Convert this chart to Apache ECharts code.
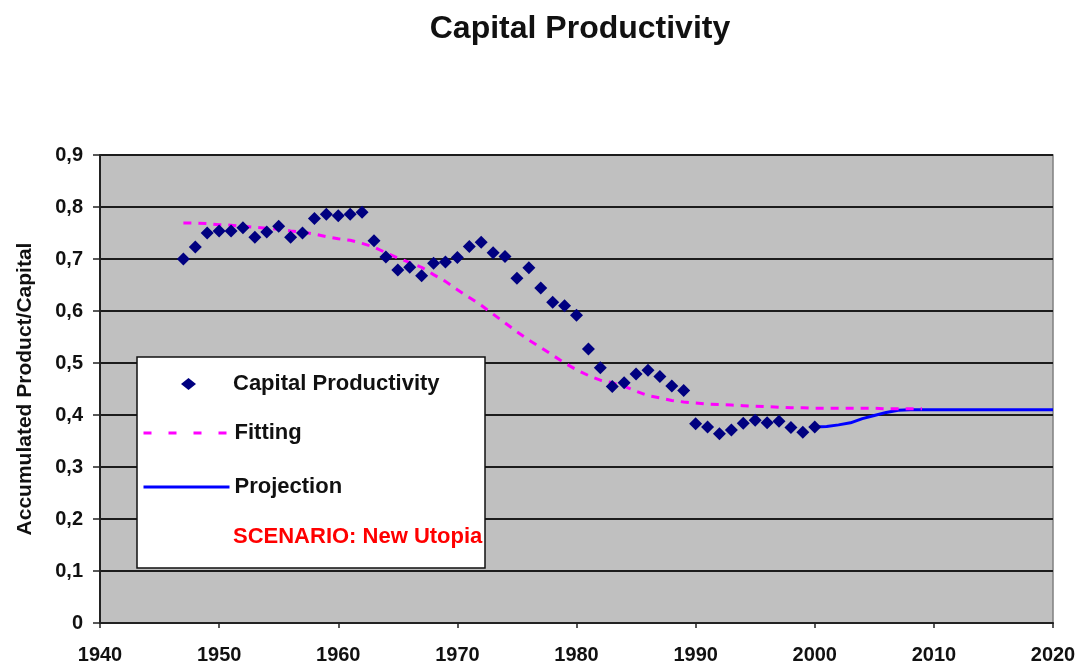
<!DOCTYPE html>
<html>
<head>
<meta charset="utf-8">
<script src="https://cdn.jsdelivr.net/npm/echarts@6/dist/echarts.min.js"></script>
<style>
  html, body { margin: 0; padding: 0; background: #ffffff; }
  #chart { width: 1087px; height: 666px; }
</style>
</head>
<body>
<div id="chart"></div>
<script>
// ---- Data ----
const titleText = 'Capital Productivity';
const yAxisTitle = 'Accumulated Product/Capital';
const scenarioText = 'SCENARIO: New Utopia';
const seriesNames = ['Capital Productivity', 'Fitting', 'Projection'];

const productivityStartYear = 1947;
const productivityValues = [
  0.700, 0.723, 0.750, 0.754, 0.754, 0.760, 0.742, 0.752, 0.763, 0.742,
  0.750, 0.778, 0.786, 0.783, 0.786, 0.790, 0.735, 0.704, 0.679, 0.684,
  0.668, 0.692, 0.694, 0.703, 0.724, 0.732, 0.712, 0.705, 0.663, 0.683,
  0.644, 0.617, 0.610, 0.592, 0.527, 0.491, 0.455, 0.462, 0.479, 0.486,
  0.474, 0.456, 0.447, 0.383, 0.377, 0.364, 0.371, 0.384, 0.390, 0.385,
  0.388, 0.376, 0.367, 0.377
];

const fittingStartYear = 1947;
const fittingValues = [
  0.769, 0.769, 0.768, 0.766, 0.765, 0.763, 0.761, 0.759, 0.757, 0.754,
  0.752, 0.748, 0.743, 0.739, 0.736, 0.730, 0.723, 0.712, 0.702, 0.693,
  0.684, 0.670, 0.657, 0.641, 0.626, 0.611, 0.594, 0.577, 0.560, 0.544,
  0.530, 0.515, 0.500, 0.487, 0.476, 0.467, 0.462, 0.455, 0.446, 0.437,
  0.433, 0.428, 0.425, 0.423, 0.421, 0.420, 0.419, 0.418, 0.417, 0.416,
  0.415, 0.414, 0.414, 0.413, 0.413, 0.413, 0.413, 0.413, 0.413, 0.412,
  0.412, 0.412, 0.412
];

const projectionStartYear = 2000;
const projectionValues = [
  0.377, 0.378, 0.381, 0.385, 0.393, 0.399, 0.405, 0.409, 0.410, 0.410,
  0.410, 0.410, 0.410, 0.410, 0.410, 0.410, 0.410, 0.410, 0.410, 0.410,
  0.410
];

const xMin = 1940, xMax = 2020, xStep = 10;
const yMin = 0, yMax = 0.9, yStep = 0.1;

// ---- Build pairs ----
function toPairs(start, vals) { return vals.map((v, i) => [start + i, v]); }

const FONT = "'Liberation Sans', Arial, sans-serif";
const legendText = { fontFamily: FONT, fontWeight: 'bold', fontSize: 22, color: '#111111' };
const noSymbol = { color: 'rgba(0,0,0,0)', borderColor: 'rgba(0,0,0,0)', borderWidth: 0 };

const chart = echarts.init(document.getElementById('chart'), null, { renderer: 'canvas' });

chart.setOption({
  backgroundColor: '#ffffff',
  animation: false,
  title: {
    text: titleText,
    left: 575,
    top: 8,
    textAlign: 'center',
    textStyle: { fontFamily: FONT, fontWeight: 'bold', fontSize: 32, color: '#111111' }
  },
  grid: {
    left: 100, right: 34, top: 155, bottom: 43,
    show: true,
    backgroundColor: '#c0c0c0',
    borderColor: '#808080',
    borderWidth: 1.5
  },
  xAxis: {
    type: 'value',
    min: xMin, max: xMax, interval: xStep,
    axisLine: { show: true, onZero: false, lineStyle: { color: '#222222', width: 2 } },
    axisTick: { show: true, length: 5, lineStyle: { color: '#222222', width: 1.5 } },
    splitLine: { show: false },
    axisLabel: {
      margin: 22,
      fontFamily: FONT, fontWeight: 'bold', fontSize: 20, color: '#111111',
      formatter: v => String(v)
    }
  },
  yAxis: {
    type: 'value',
    min: yMin, max: yMax, interval: yStep,
    name: yAxisTitle,
    nameLocation: 'middle',
    nameGap: 64,
    nameTextStyle: { fontFamily: FONT, fontWeight: 'bold', fontSize: 21, color: '#111111' },
    axisLine: { show: true, lineStyle: { color: '#222222', width: 2 } },
    axisTick: { show: true, length: 7, lineStyle: { color: '#222222', width: 1.5 } },
    splitLine: { show: true, lineStyle: { color: '#1c1c1c', width: 2 } },
    axisLabel: {
      margin: 17,
      fontFamily: FONT, fontWeight: 'bold', fontSize: 20, color: '#111111',
      formatter: v => (Math.abs(v) < 1e-9 ? '0' : v.toFixed(1).replace('.', ','))
    }
  },
  legend: [
    {
      orient: 'vertical',
      left: 176,
      top: 368,
      itemWidth: 15,
      itemHeight: 12,
      symbolKeepAspect: false,
      z: 100,
      data: [{ name: seriesNames[0], icon: 'diamond' }],
      textStyle: Object.assign({ padding: [0, 0, 0, 32] }, legendText)
    },
    {
      orient: 'vertical',
      left: 137,
      top: 417,
      itemWidth: 86,
      itemHeight: 14,
      itemGap: 32,
      z: 100,
      data: [
        { name: seriesNames[1], itemStyle: noSymbol, lineStyle: { type: [8, 17], width: 3 } },
        { name: seriesNames[2], itemStyle: noSymbol, lineStyle: { width: 3 } }
      ],
      textStyle: legendText
    }
  ],
  graphic: [
    {
      type: 'rect',
      z: 50,
      shape: { x: 137, y: 357, width: 348, height: 211 },
      style: { fill: '#ffffff', stroke: '#111111', lineWidth: 1.5 }
    },
    {
      type: 'text',
      z: 101,
      left: 233,
      top: 526,
      style: {
        text: scenarioText,
        fill: '#ff0000',
        font: "bold 22px 'Liberation Sans', Arial, sans-serif"
      }
    }
  ],
  series: [
    {
      name: seriesNames[2],
      type: 'line',
      z: 2,
      data: toPairs(projectionStartYear, projectionValues),
      showSymbol: false,
      symbol: 'none',
      lineStyle: { color: '#0000ff', width: 3 },
      itemStyle: { color: '#0000ff' }
    },
    {
      name: seriesNames[1],
      type: 'line',
      z: 3,
      data: toPairs(fittingStartYear, fittingValues),
      showSymbol: false,
      symbol: 'none',
      smooth: false,
      lineStyle: { color: '#ff00ff', width: 3, type: [8, 7] },
      itemStyle: { color: '#ff00ff' }
    },
    {
      name: seriesNames[0],
      type: 'scatter',
      z: 4,
      data: toPairs(productivityStartYear, productivityValues),
      symbol: 'diamond',
      symbolSize: 13,
      itemStyle: { color: '#000080', opacity: 1 }
    }
  ]
});
</script>
</body>
</html>
